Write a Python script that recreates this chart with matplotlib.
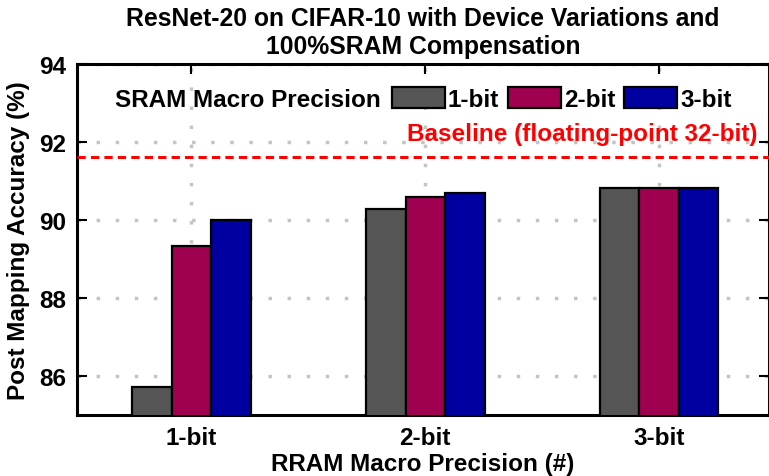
import numpy as np
import matplotlib; matplotlib.use("Agg")
import matplotlib.pyplot as plt

rram = ["1-bit", "2-bit", "3-bit"]
sram = ["1-bit", "2-bit", "3-bit"]
acc_sram1 = [85.70, 90.28, 90.82]
acc_sram2 = [89.33, 90.58, 90.82]
acc_sram3 = [90.00, 90.68, 90.82]
baseline = 91.62
colors = ["#555555", "#A00050", "#0000A0"]

plt.rcParams["font.family"] = ["Liberation Sans", "DejaVu Sans"]
plt.rcParams["font.weight"] = "bold"
FS = 17.5

fig = plt.figure(figsize=(7.69, 4.77), dpi=100)
ax = fig.add_axes([0.100, 0.1285, 0.900, 0.7352])
ax.set_axisbelow(True)

x = np.arange(len(rram)); w = 0.169
for i, (vals, c) in enumerate(zip([acc_sram1, acc_sram2, acc_sram3], colors)):
    ax.bar(x + (i - 1) * w, vals, w, color=c, edgecolor="black", linewidth=1.6, label=sram[i], zorder=3)

ax.axhline(baseline, color="red", ls=(0, (2.7, 1.7)), lw=2.2, zorder=4)
ax.text(2.42, baseline + 0.3, "Baseline (floating-point 32-bit)", color="red", fontsize=FS,
        fontweight="bold", ha="right", va="bottom")

ax.set_ylim(85, 94); ax.set_xlim(-0.49, 2.47)
ax.set_yticks([86, 88, 90, 92, 94]); ax.set_xticks(x); ax.set_xticklabels(rram)
ax.grid(True, color="#c4c4c4", ls=(0, (1, 4.5)), lw=2.5)
ax.tick_params(direction="in", length=7, width=1.5, top=True, right=True, labelsize=FS, pad=8)
for s in ax.spines.values(): s.set_linewidth(2.2)

ax.set_ylabel("Post Mapping Accuracy (%)", fontsize=FS, fontweight="bold", labelpad=6)
ax.set_xlabel("RRAM Macro Precision (#)", fontsize=FS, fontweight="bold", labelpad=2)
ax.set_title("ResNet-20 on CIFAR-10 with Device Variations and\n100%SRAM Compensation",
             fontsize=17.8, fontweight="bold", pad=8, linespacing=1.2)

ax.text(0.055, 0.9, "SRAM Macro Precision", transform=ax.transAxes, fontsize=FS, fontweight="bold",
        va="center", ha="left")
leg = ax.legend(ncol=3, loc="center left", bbox_to_anchor=(0.455, 0.9), frameon=False, fontsize=FS,
                handlelength=2.18, handleheight=0.9, handletextpad=0.12, columnspacing=0.37,
                borderpad=0, borderaxespad=0)
for t in leg.get_texts(): t.set_fontweight("bold")

fig.savefig("out.png", dpi=100)
